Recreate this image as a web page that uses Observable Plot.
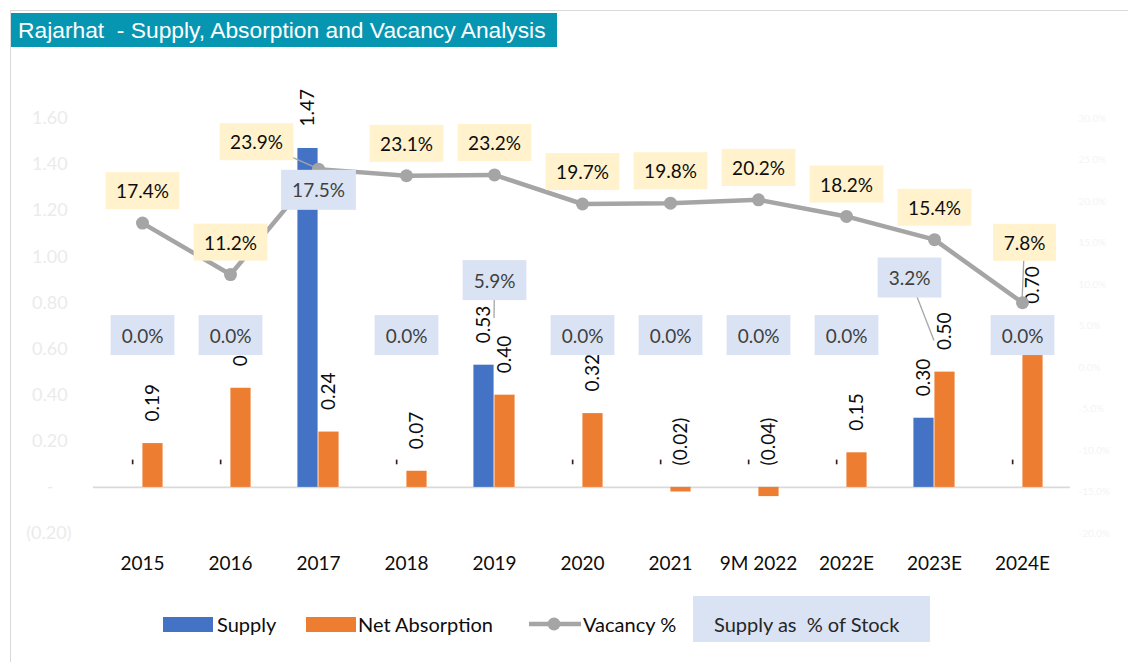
<!DOCTYPE html>
<html><head><meta charset="utf-8">
<script src="https://cdn.jsdelivr.net/npm/d3@7"></script>
<script src="https://cdn.jsdelivr.net/npm/@observablehq/plot@0.6"></script>
<style>
html,body{margin:0;padding:0;background:#fff;}
#wrap{position:relative;width:1128px;height:662px;overflow:hidden;font-family:Lato,sans-serif;}
#frameTop{position:absolute;left:10px;top:10px;width:1118px;height:0;border-top:1.5px solid #d9d9d9;}
#frameLeft{position:absolute;left:10px;top:10px;width:0;height:652px;border-left:1.5px solid #d9d9d9;}
#title{position:absolute;left:11px;top:13px;width:539px;height:34px;padding-left:7px;background:#0796b2;color:#fff;font-family:"Liberation Sans",Arial,sans-serif;font-size:22.8px;line-height:34px;white-space:pre;z-index:2;}
#chart{position:absolute;left:0;top:0;}
.lg{position:absolute;font-size:20px;color:#0d0d0d;line-height:24px;white-space:pre;}
.sw{position:absolute;height:15px;width:50px;}
</style>
</head><body>
<div id="wrap">
  <div id="frameTop"></div><div id="frameLeft"></div>
  <div id="chart"></div>
  <div id="title">Rajarhat  - Supply, Absorption and Vacancy Analysis</div>
  <div id="legend"></div>
</div>
<script>
// ---- data ----
const categories = ["2015","2016","2017","2018","2019","2020","2021","9M 2022","2022E","2023E","2024E"];
const supply = [0,0,1.47,0,0.53,0,0,0,0,0.30,0];
const absorption = [0.19,0.43,0.24,0.07,0.40,0.32,-0.02,-0.04,0.15,0.50,0.58];
const absorptionLabels = ["0.19","0.43","0.24","0.07","0.40","0.32","(0.02)","(0.04)","0.15","0.50","0.70"];
const vacancy = [17.4,11.2,23.9,23.1,23.2,19.7,19.8,20.2,18.2,15.4,7.8];
const supplyPctStock = [0,0,17.5,0,5.9,0,0,0,0,3.2,0];
const leftTicks = [-0.2,0,0.2,0.4,0.6,0.8,1.0,1.2,1.4,1.6];
const rightTicks = [-20,-15,-10,-5,0,5,10,15,20,25,30];
const seriesNames = ["Supply","Net Absorption","Vacancy %","Supply as  % of Stock"];

// secondary axis (%) mapped onto primary axis
const toLeft = p => -0.2 + (p + 20) / 50 * 1.8;
const fromLeft = v => (v + 0.2) / 1.8 * 50 - 20;

const rows = categories.map((c, i) => ({
  c, supply: supply[i], absorption: absorption[i], absLabel: absorptionLabels[i],
  vac: vacancy[i], pct: supplyPctStock[i]
}));

const fmtBar = v => v === 0 ? "-" : v < 0 ? `(${Math.abs(v).toFixed(2)})` : v.toFixed(2);
const fmtLeft = v => Math.abs(v) < 1e-9 ? "-\u2002\u2002" : v < 0 ? `(${Math.abs(v).toFixed(2)})` : v.toFixed(2) + "\u2008";

const W = 1128, H = 590, mL = 93, mR = 58, mT = 118, mB = 57;
const bw = (W - mL - mR) / categories.length;
const barW = 21;

// manual label nudges (pixels), as in the source chart
const vacNudge = {"2017": [-62, -26], "2024E": [2, -59]};
const pctNudge = {"2019": [0, -37], "2023E": [-25, -62]};
const absNudge = {"2024E": -50};

const marks = [
  Plot.ruleY([0], {stroke: "#d9d9d9", strokeWidth: 1.6}),
  Plot.barY(rows, {x: "c", y: "supply", fill: "#4472c4", insetLeft: bw/2 - barW, insetRight: bw/2}),
  Plot.barY(rows, {x: "c", y: "absorption", fill: "#ed7d31", insetLeft: bw/2, insetRight: bw/2 - barW}),
  Plot.text(rows, {x: "c", y: d => Math.max(d.supply, 0), text: d => fmtBar(d.supply), rotate: -90,
    textAnchor: "start", lineAnchor: "middle", dx: -barW/2, dy: -22, fontSize: 19, fill: "#0d0d0d"}),
  ...rows.map(r => Plot.text([r], {x: "c", y: d => Math.max(d.absorption, 0), text: "absLabel", rotate: -90,
    textAnchor: "start", lineAnchor: "middle", dx: barW/2, dy: absNudge[r.c] ?? -22, fontSize: 19, fill: "#0d0d0d"})),
  Plot.line(rows, {x: "c", y: d => toLeft(d.vac), stroke: "#a5a5a5", strokeWidth: 4.5}),
  Plot.dot(rows, {x: "c", y: d => toLeft(d.vac), r: 6.5, fill: "#a5a5a5"}),
  ...rows.map(r => {
    const [dx, dy] = vacNudge[r.c] ?? [0, -31];
    return Plot.text([r], {x: "c", y: d => toLeft(d.vac), text: d => d.vac.toFixed(1) + "%",
      dx, dy, fontSize: 19, fill: "#0d0d0d", ariaLabel: () => "vac-label " + r.c});
  }),
  ...rows.map(r => {
    const [dx, dy] = pctNudge[r.c] ?? [0, -31];
    return Plot.text([r], {x: "c", y: d => toLeft(d.pct), text: d => d.pct.toFixed(1) + "%",
      dx, dy, fontSize: 19, fill: "#404040", ariaLabel: () => "pct-label " + r.c});
  }),
  Plot.axisY(leftTicks, {anchor: "left", tickSize: 0, tickPadding: 22, fontSize: 18, color: "#ebebeb", tickFormat: fmtLeft, label: null}),
  Plot.axisY(rightTicks.map(toLeft), {anchor: "right", tickSize: 0, tickPadding: 8, fontSize: 10, color: "#f4f4f4",
    tickFormat: v => fromLeft(v).toFixed(1) + "%", label: null}),
  Plot.axisX({tickSize: 0, tickPadding: 23, fontSize: 19, color: "#0d0d0d", label: null})
];

const plot = Plot.plot({
  width: W, height: H, marginLeft: mL, marginRight: mR, marginTop: mT, marginBottom: mB,
  style: {fontFamily: "Lato, sans-serif", background: "transparent", overflow: "visible"},
  x: {type: "band", domain: categories, padding: 0, axis: null},
  y: {domain: [-0.2, 1.6], axis: null},
  marks
});
document.getElementById("chart").append(plot);

// label boxes and leader lines
const NS = "http://www.w3.org/2000/svg";
const xs = plot.scale("x"), ys = plot.scale("y");
const svgRect = plot.getBoundingClientRect();
const leaderG = document.createElementNS(NS, "g");
const firstLabelText = plot.querySelector('text[aria-label^="vac-label"]');
if (firstLabelText) {
  const grp = firstLabelText.parentNode;
  grp.parentNode.insertBefore(leaderG, grp);
} else {
  plot.appendChild(leaderG);
}

function leader(kind, c, val) {
  const t = plot.querySelector(`text[aria-label="${kind}-label ${c}"]`);
  if (!t) return;
  const b = t.getBoundingClientRect();
  const cx = b.x + b.width/2 - svgRect.x, cy = b.y + b.height/2 - svgRect.y;
  const px = xs.apply(c) + xs.bandwidth/2, py = ys.apply(toLeft(val));
  const l = document.createElementNS(NS, "line");
  l.setAttribute("x1", cx); l.setAttribute("y1", cy);
  l.setAttribute("x2", px); l.setAttribute("y2", py);
  l.setAttribute("stroke", "#a6a6a6"); l.setAttribute("stroke-width", 1.3);
  leaderG.appendChild(l);
}
rows.forEach(r => {
  if (vacNudge[r.c]) leader("vac", r.c, r.vac);
  if (pctNudge[r.c]) leader("pct", r.c, r.pct);
});

function boxes(prefix, fill, padX, padY) {
  plot.querySelectorAll(`text[aria-label^="${prefix}"]`).forEach(t => {
    const b = t.getBBox();
    const rect = document.createElementNS(NS, "rect");
    rect.setAttribute("x", b.x - padX); rect.setAttribute("y", b.y - padY);
    rect.setAttribute("width", b.width + 2*padX); rect.setAttribute("height", b.height + 2*padY);
    rect.setAttribute("fill", fill);
    const tr = t.getAttribute("transform"); if (tr) rect.setAttribute("transform", tr);
    t.parentNode.insertBefore(rect, t);
  });
}
boxes("vac-label", "#fff2cc", 10.5, 7);
boxes("pct-label", "#dae3f3", 11, 8.5);

// legend
const lg = document.getElementById("legend");
const colors = ["#4472c4", "#ed7d31"];
const pos = [[163, 217], [306, 358]];
let html = "";
pos.forEach(([s, t], i) => {
  html += `<div class="sw" style="left:${s}px;top:617px;background:${colors[i]}"></div>`;
  html += `<div class="lg" style="left:${t}px;top:612px">${seriesNames[i]}</div>`;
});
html += `<svg style="position:absolute;left:527px;top:614px" width="56" height="20"><line x1="2" x2="54" y1="10" y2="10" stroke="#a5a5a5" stroke-width="4.5"/><circle cx="27" cy="10" r="6.5" fill="#a5a5a5"/></svg>`;
html += `<div class="lg" style="left:583px;top:612px">${seriesNames[2]}</div>`;
html += `<div style="position:absolute;left:693px;top:596px;width:237px;height:46px;background:#dae3f3"></div>`;
html += `<div class="lg" style="left:714px;top:612px;color:#262626">${seriesNames[3]}</div>`;
lg.innerHTML = html;
</script>
</body></html>
